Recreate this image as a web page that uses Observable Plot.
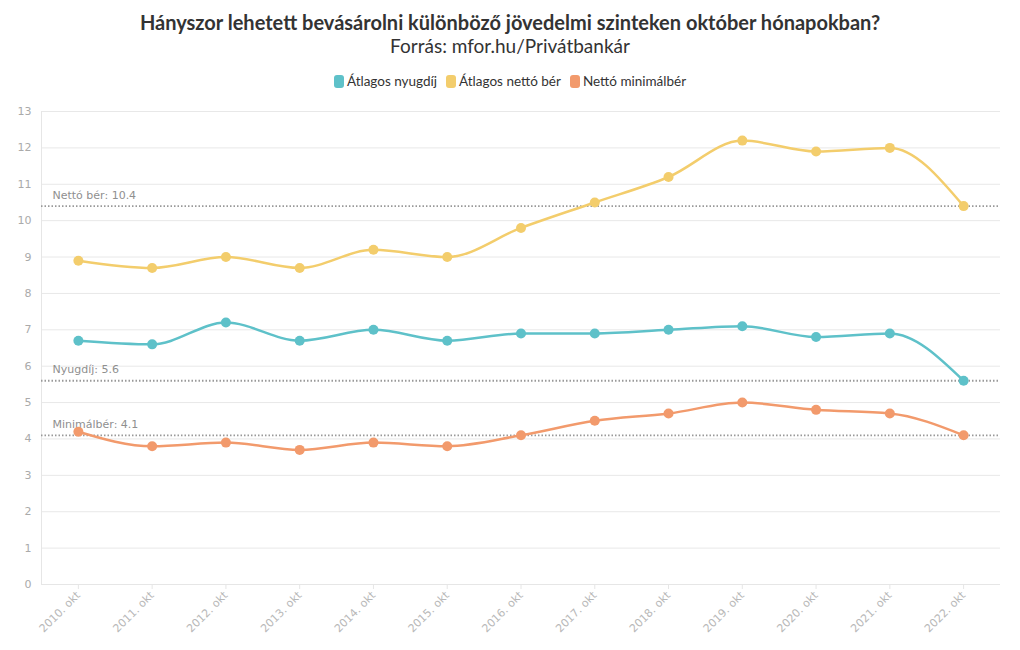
<!DOCTYPE html>
<html>
<head>
<meta charset="utf-8">
<script src="https://cdn.jsdelivr.net/npm/d3@7"></script>
<script src="https://cdn.jsdelivr.net/npm/@observablehq/plot@0.6"></script>
<style>
  body { margin: 0; background: #fff; font-family: "Lato", "Open Sans", sans-serif; }
  #wrap { width: 1020px; }
  .title { text-align: center; font-weight: bold; font-size: 20px; color: #333; margin-top: 10px; line-height: 24px; }
  .subtitle { text-align: center; font-size: 19px; color: #333; line-height: 24px; }
  .legend { display: flex; justify-content: center; gap: 9px; margin-top: 13px; font-size: 13.5px; color: #333; height: 20px; align-items: center; }
  .legend span.sw { display: inline-block; width: 10px; height: 13px; border-radius: 3px; margin-right: 3px; vertical-align: -2px; }
  #chart { padding-top: 3px; }
</style>
</head>
<body>
<div id="wrap">
  <div class="title">Hányszor lehetett bevásárolni különböző jövedelmi szinteken október hónapokban?</div>
  <div class="subtitle">Forrás: mfor.hu/Privátbankár</div>
  <div class="legend" id="legend"></div>
  <div id="chart"></div>
</div>
<script>
const years = ["2010. okt","2011. okt","2012. okt","2013. okt","2014. okt","2015. okt","2016. okt","2017. okt","2018. okt","2019. okt","2020. okt","2021. okt","2022. okt"];
const seriesNames = ["Átlagos nyugdíj","Átlagos nettó bér","Nettó minimálbér"];
const seriesColors = ["#5ec1c9","#f3cd6c","#f29a6c"];
const nyugdij = [6.7, 6.6, 7.2, 6.7, 7.0, 6.7, 6.9, 6.9, 7.0, 7.1, 6.8, 6.9, 5.6];
const nettoBer = [8.9, 8.7, 9.0, 8.7, 9.2, 9.0, 9.8, 10.5, 11.2, 12.2, 11.9, 12.0, 10.4];
const minimalber = [4.2, 3.8, 3.9, 3.7, 3.9, 3.8, 4.1, 4.5, 4.7, 5.0, 4.8, 4.7, 4.1];
const refLabels = ["Nettó bér: 10.4","Nyugdíj: 5.6","Minimálbér: 4.1"];
const refValues = [10.4, 5.6, 4.1];
const yTicks = [0,1,2,3,4,5,6,7,8,9,10,11,12,13];

const allSeries = [nyugdij, nettoBer, minimalber];
const data = [];
allSeries.forEach((vals, s) => vals.forEach((v, i) => data.push({year: years[i], value: v, series: seriesNames[s]})));
const refs = refValues.map((v, i) => ({value: v, label: refLabels[i]}));

const legend = document.getElementById("legend");
seriesNames.forEach((n, i) => {
  const el = document.createElement("div");
  el.innerHTML = `<span class="sw" style="background:${seriesColors[i]}"></span>${n}`;
  legend.appendChild(el);
});

// left frame edge as a custom render mark using the plot dimensions
const leftEdge = (index, scales, values, dims) => {
  const line = document.createElementNS("http://www.w3.org/2000/svg", "line");
  line.setAttribute("x1", dims.marginLeft + 0.5);
  line.setAttribute("x2", dims.marginLeft + 0.5);
  line.setAttribute("y1", dims.marginTop);
  line.setAttribute("y2", dims.height - dims.marginBottom);
  line.setAttribute("stroke", "#e6e6e6");
  return line;
};

const chart = Plot.plot({
  width: 1020,
  height: 556,
  marginTop: 17,
  marginLeft: 41,
  marginRight: 20,
  marginBottom: 66,
  style: { fontFamily: "DejaVu Sans, sans-serif", fontSize: "11px", color: "#aaa" },
  x: { type: "point", domain: years, padding: 0.5, round: false, label: null },
  y: { domain: [0, 13], ticks: yTicks, label: null, tickSize: 0, tickPadding: 10, tickFormat: d => String(d) },
  color: { domain: seriesNames, range: seriesColors },
  marks: [
    Plot.gridY(yTicks, { stroke: "#e8e8e8", strokeOpacity: 1 }),
    leftEdge,
    Plot.axisX({ tickRotate: -45, tickSize: 5, tickPadding: 4, stroke: "#e6e6e6", fill: "#b8b8b8", label: null }),
    Plot.axisY(yTicks, { tickSize: 0, tickPadding: 10, fill: "#aaa", label: null }),
    Plot.ruleY([0], { stroke: "#e6e6e6" }),
    Plot.ruleY(refs, { y: "value", stroke: "#999", strokeWidth: 1.8, strokeDasharray: "1.5,2" }),
    Plot.text(refs, { y: "value", frameAnchor: "left", dx: 11, dy: -11, text: "label", fill: "#8f8f8f", textAnchor: "start", fontSize: 11 }),
    Plot.line(data, { x: "year", y: "value", z: "series", stroke: "series", strokeWidth: 2.5, curve: "monotone-x" }),
    Plot.dot(data, { x: "year", y: "value", fill: "series", r: 5 })
  ]
});
document.getElementById("chart").appendChild(chart);
</script>
</body>
</html>
